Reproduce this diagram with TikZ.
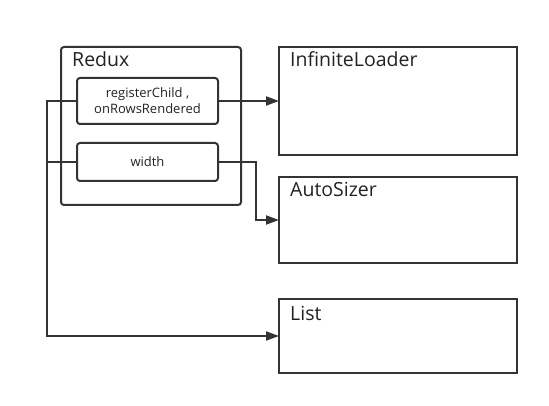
\documentclass[tikz,border=0pt]{standalone}
\usepackage{fontspec}
\setmainfont{Open Sans}
\usetikzlibrary{arrows.meta}
\definecolor{ink}{HTML}{333333}
\definecolor{txt}{HTML}{222222}
\begin{document}
\begin{tikzpicture}[x=1pt,y=-1pt,
  box/.style={draw=ink, line width=2pt, inner sep=0pt, outer sep=0pt},
  rbox/.style={box, rounded corners=3pt},
  title/.style={anchor=base west, font=\fontsize{19.5}{22}\selectfont, text=txt, inner sep=0pt},
  small/.style={font=\fontsize{13}{16}\selectfont, text=txt, align=center},
  arr/.style={draw=ink, line width=2pt, -{Triangle[length=13pt,width=9pt]}},
  wire/.style={draw=ink, line width=2pt}]
\useasboundingbox (0,0) rectangle (549,406);
% containers
\node[rbox, minimum width=180pt, minimum height=158pt] (redux) at (151,126) {};
\node[title] (treux) at (72,67) {Redux};
\node[rbox, small, minimum width=141pt, minimum height=46pt] (rc) at (147.5,101) {registerChild ,\\onRowsRendered};
\node[rbox, small, minimum width=141pt, minimum height=38pt] (wd) at (147.5,162) {width};
% targets
\node[box, minimum width=238pt, minimum height=108pt] (il) at (398,101) {};
\node[title] (til) at (290,67) {InfiniteLoader};
\node[box, minimum width=238pt, minimum height=86pt] (as) at (398,220) {};
\node[title] (tas) at (290,197) {AutoSizer};
\node[box, minimum width=238pt, minimum height=74pt] (ls) at (398,336) {};
\node[title] (tls) at (290,320) {List};
% bend points
\coordinate (b1) at (256,162);
\coordinate (c1) at (47,101);
\coordinate (c2) at (47,162);
% connectors
\draw[arr] (rc.east) -- (il.west);
\draw[arr] (wd.east) -- (b1) |- (as.west);
\draw[arr] (rc.west) -- (c1) |- (ls.west);
\draw[wire] (wd.west) -- (c2);
\end{tikzpicture}
\end{document}
